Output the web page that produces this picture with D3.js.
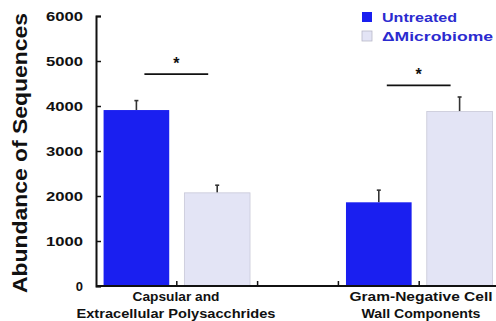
<!DOCTYPE html>
<html><head><meta charset="utf-8">
<script src="https://cdn.jsdelivr.net/npm/d3@7"></script>
<style>body{margin:0;background:#fff}svg{display:block}text{font-family:Arial,"Liberation Sans",Helvetica,sans-serif;font-weight:bold}</style>
</head><body>
<script>
const categories = [["Capsular and","Extracellular Polysacchrides"],["Gram-Negative Cell","Wall Components"]];
const seriesNames = ["Untreated","\u0394Microbiome"];
const untreated = [3910, 1860];
const untreatedErr = [210, 270];
const microbiome = [2070, 3880];
const microbiomeErr = [170, 320];
const sigLevel = [4710, 4460];
const yTicks = [0,1000,2000,3000,4000,5000,6000];
const slots = ["c0u","c0m","gap","c1u","c1m"];

const W=496,H=321;
const svg=d3.select("body").append("svg").attr("width",W).attr("height",H);
const x=d3.scaleBand().domain(slots).range([96,500]).paddingInner(0.1875).paddingOuter(0.09375);
const xb=d3.scaleBand().domain(slots).range([96,500]).padding(0);
const y=d3.scaleLinear().domain([0,6000]).range([286,16]);
const colU="#1a1ff0", colM="#e3e4f5";

const bars=[];
categories.forEach((c,i)=>{
  bars.push({slot:"c"+i+"u",v:untreated[i],e:untreatedErr[i],fill:colU,stroke:"none"});
  bars.push({slot:"c"+i+"m",v:microbiome[i],e:microbiomeErr[i],fill:colM,stroke:"#c8c8d8"});
});
// error bars
const eg=svg.append("g");
bars.forEach(b=>{
  const cx=x(b.slot)+x.bandwidth()/2;
  eg.append("line").attr("x1",cx).attr("x2",cx).attr("y1",y(b.v)).attr("y2",y(b.v+b.e)).attr("stroke","#333").attr("stroke-width",1.6);
  eg.append("line").attr("x1",cx-2).attr("x2",cx+2).attr("y1",y(b.v+b.e)).attr("y2",y(b.v+b.e)).attr("stroke","#333").attr("stroke-width",1.6);
});
svg.append("g").selectAll("rect").data(bars).join("rect")
  .attr("x",d=>x(d.slot)).attr("width",x.bandwidth())
  .attr("y",d=>y(d.v)).attr("height",d=>y(0)-y(d.v))
  .attr("fill",d=>d.fill).attr("stroke",d=>d.stroke).attr("stroke-width",0.8);

// significance
categories.forEach((c,i)=>{
  const x1=x("c"+i+"u")+x.bandwidth()/2+8, x2=x("c"+i+"m")+x.bandwidth()/2-9;
  svg.append("line").attr("x1",x1).attr("x2",x2).attr("y1",y(sigLevel[i])).attr("y2",y(sigLevel[i])).attr("stroke","#111").attr("stroke-width",1.8);
  svg.append("text").attr("x",(x1+x2)/2).attr("y",y(sigLevel[i])-5).attr("text-anchor","middle").attr("font-size",16).attr("fill","#111").text("*");
});

// y axis
const ya=svg.append("g").attr("transform","translate(96,0)")
  .call(d3.axisLeft(y).tickValues(yTicks).tickSize(-5).tickPadding(13).tickFormat(d3.format("d")));
ya.select(".domain").attr("stroke","#111").attr("stroke-width",2);
ya.selectAll(".tick line").attr("stroke","#111").attr("stroke-width",1.5);
ya.selectAll(".tick text").attr("font-size",13).attr("fill","#111").attr("font-family","Arial,'Liberation Sans',sans-serif").attr("font-weight","bold")
  .attr("textLength",37).attr("lengthAdjust","spacingAndGlyphs").attr("dy","0.36em");
ya.selectAll(".tick").filter(d=>d<1000).select("text").attr("textLength",null);

// x axis
const xa=svg.append("g").attr("transform","translate(0,286)")
  .call(d3.axisBottom(xb).tickSize(0).tickFormat(""));
xa.select(".domain").attr("stroke","#111").attr("stroke-width",2.2).attr("d","M96,0H496");
xa.selectAll(".tick").remove();
slots.slice(1).forEach(s=>{
  xa.append("line").attr("x1",xb(s)).attr("x2",xb(s)).attr("y1",0).attr("y2",-5).attr("stroke","#111").attr("stroke-width",1.5);
});

// category labels
const labelCenters=[176,421];
const lineLens=[[87,199],[143,119]];
categories.forEach((c,i)=>{
  c.forEach((t,j)=>{
    svg.append("text").attr("x",labelCenters[i]).attr("y",301+j*17).attr("text-anchor","middle")
      .attr("font-size",12.5).attr("fill","#111").attr("textLength",lineLens[i][j]).attr("lengthAdjust","spacingAndGlyphs").text(t);
  });
});

// y title
svg.append("text").attr("transform","translate(27,153) rotate(-90)").attr("text-anchor","middle")
  .attr("font-size",20).attr("fill","#111").attr("textLength",280).attr("lengthAdjust","spacingAndGlyphs").text("Abundance of Sequences");

// legend
const lg=svg.append("g");
[[colU,"none",22],[colM,"#b8b8c8",41]].forEach((d,i)=>{
  lg.append("rect").attr("x",362).attr("y",d[2]-10).attr("width",10).attr("height",10).attr("fill",d[0]).attr("stroke",d[1]).attr("stroke-width",0.8);
  lg.append("text").attr("x",382).attr("y",d[2]).attr("font-size",13.5).attr("fill","#2b2bcf")
    .attr("textLength",i===0?75:111).attr("lengthAdjust","spacingAndGlyphs").text(seriesNames[i]);
});
</script>
</body></html>
